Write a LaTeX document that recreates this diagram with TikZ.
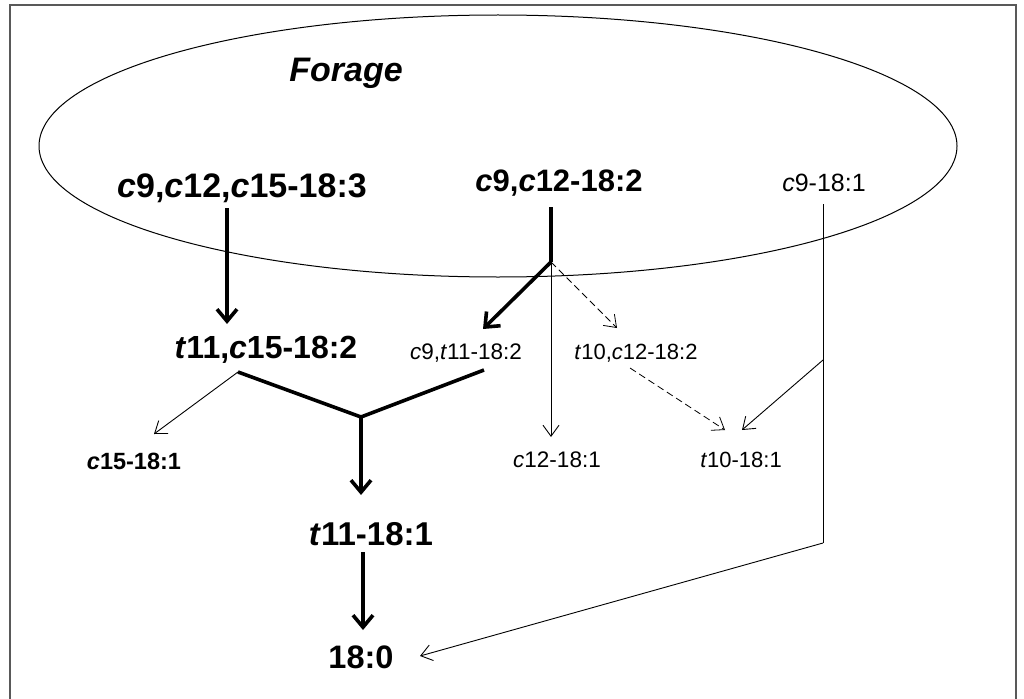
\documentclass[tikz,border=0pt]{standalone}
\usepackage{fontspec}
\setmainfont{Liberation Sans}
\usetikzlibrary{arrows.meta,shapes.geometric}
\begin{document}
\begin{tikzpicture}[x=1pt,y=-1pt,
  lbl/.style={anchor=base,inner sep=0pt},
  bigb/.style={lbl,font=\bfseries\fontsize{#1}{#1}\selectfont},
  reg/.style={lbl,font=\fontsize{#1}{#1}\selectfont},
  thickarr/.style={line width=3.6pt,line join=round,-{Straight Barb[length=12pt,width=20pt,line width=3.6pt]}},
  thickline/.style={line width=3.6pt,line join=round},
  thinarr/.style={line width=0.9pt,-{Straight Barb[length=11pt,width=16pt,line width=0.9pt]}},
  thinline/.style={line width=0.9pt},
  dasharr/.style={line width=0.8pt,dash pattern=on 7pt off 4pt,-{Straight Barb[length=11pt,width=16pt,line width=0.8pt]}}
]
\useasboundingbox (0,0) rectangle (1024,698);
\clip (0,0) rectangle (1024,698);
\fill[white] (0,0) rectangle (1024,698);
\draw[black!65,line width=1.2pt] (10,5) rectangle (1016,720);

\node[draw,ellipse,line width=1pt,minimum width=918pt,minimum height=262pt,inner sep=0pt] (forage) at (498,146) {};

% labels
\node[bigb=34] (tforage) at (346,82) {\itshape Forage};
\node[bigb=34] (lin) at (242,197) {\textit{c}9,\textit{c}12,\textit{c}15-18:3};
\node[bigb=31] (la) at (559,191) {\textit{c}9,\textit{c}12-18:2};
\node[reg=25] (ole) at (824,191) {\textit{c}9-18:1};
\node[bigb=32] (vacc) at (266,358) {\textit{t}11,\textit{c}15-18:2};
\node[reg=22.5] (cla) at (466,359) {\textit{c}9,\textit{t}11-18:2};
\node[reg=22] (tten) at (636,359) {\textit{t}10,\textit{c}12-18:2};
\node[bigb=23.5] (cfift) at (134,469) {\textit{c}15-18:1};
\node[reg=22.5] (ctw) at (557,467) {\textit{c}12-18:1};
\node[reg=22] (tene) at (741,467) {\textit{t}10-18:1};
\node[bigb=33] (tvac) at (371,545) {\textit{t}11-18:1};
\node[bigb=32.5] (stea) at (361,668) {18:0};

% connector points
\coordinate (linS) at (227,208);
\coordinate (vaccN) at (227,324);
\coordinate (laS) at (551,207);
\coordinate (j1) at (551,262);
\coordinate (claN) at (483,329);
\coordinate (ctwN) at (551,437);
\coordinate (ttenN) at (617,328);
\coordinate (ttenS) at (630,368);
\coordinate (teneN1) at (725,430);
\coordinate (teneN2) at (742,430);
\coordinate (oleS) at (823,204);
\coordinate (oleB) at (823,360);
\coordinate (oleE) at (823,543);
\coordinate (vaccS) at (238,372);
\coordinate (cfiftN) at (154,434);
\coordinate (claS) at (484,370);
\coordinate (j2) at (361,417);
\coordinate (tvacN) at (361,495);
\coordinate (tvacS) at (363,552);
\coordinate (steaN) at (363,630);
\coordinate (steaE) at (420,656);

% connectors
\draw[thickarr] (linS) -- (vaccN);
\draw[thickline] (laS) -- (j1);
\draw[thickarr] (j1) -- (claN);
\draw[thinarr] (j1) -- (ctwN);
\draw[dasharr] (j1) -- (ttenN);
\draw[dasharr] (ttenS) -- (teneN1);
\draw[thinline] (oleS) -- (oleE);
\draw[thinarr] (oleB) -- (teneN2);
\draw[thinarr] (oleE) -- (steaE);
\draw[thinarr] (vaccS) -- (cfiftN);
\draw[thickline] (vaccS) -- (j2) -- (claS);
\draw[thickarr] (j2) -- (tvacN);
\draw[thickarr] (tvacS) -- (steaN);
\end{tikzpicture}
\end{document}
